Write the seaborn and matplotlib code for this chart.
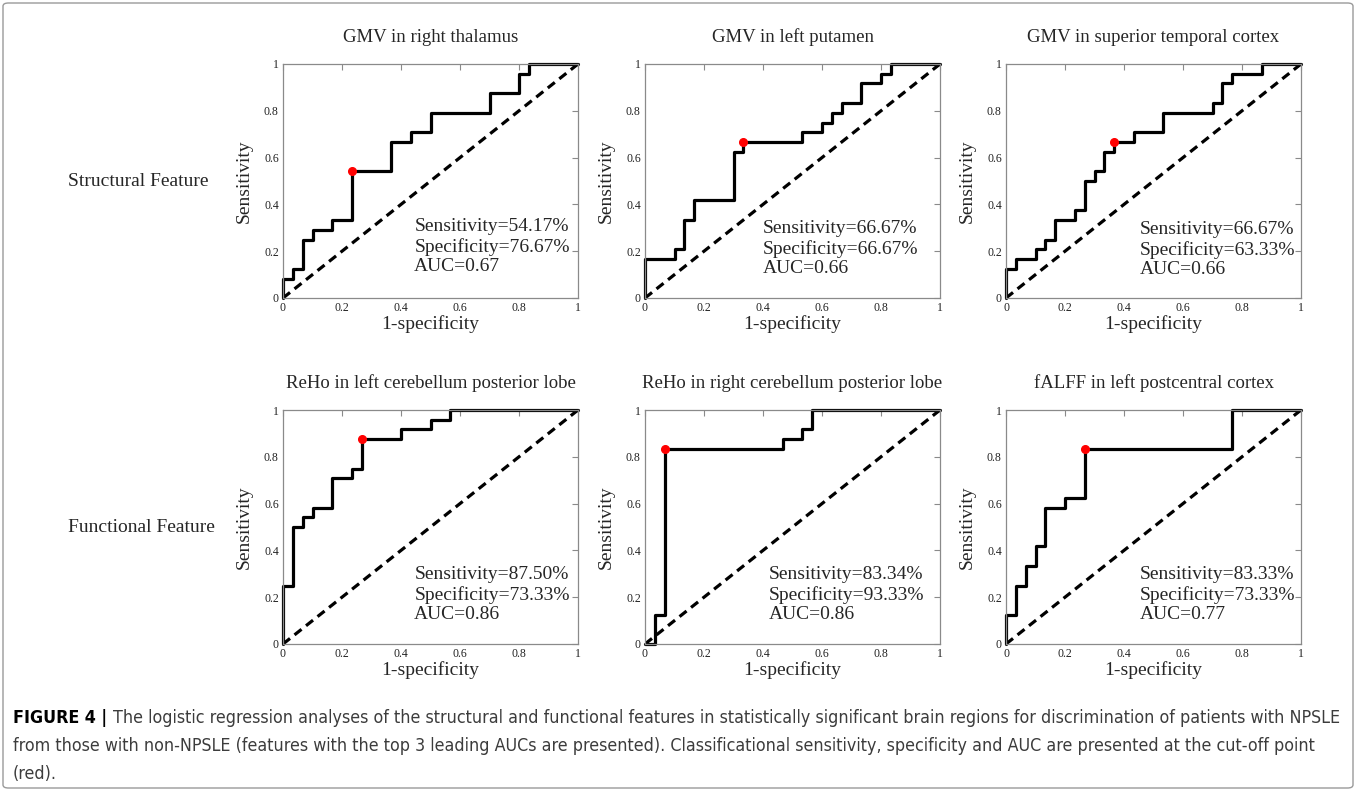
import matplotlib
matplotlib.use("Agg")
import matplotlib.pyplot as plt
from matplotlib.patches import FancyBboxPatch
import seaborn as sns

# ROC curves, 24 NPSLE vs 30 non-NPSLE: corner points (steps-post order)
titles = ["GMV in right thalamus", "GMV in left putamen", "GMV in superior temporal cortex",
          "ReHo in left cerebellum posterior lobe", "ReHo in right cerebellum posterior lobe",
          "fALFF in left postcentral cortex"]
row_labels = ["Structural Feature", "Functional Feature"]

fpr_thalamus = [0, 0, .033, .067, .1, .167, .233, .367, .433, .5, .7, .8, .833, 1]
tpr_thalamus = [0, .083, .125, .25, .292, .333, .542, .667, .708, .792, .875, .958, 1, 1]

fpr_putamen = [0, 0, .1, .133, .167, .3, .333, .533, .6, .633, .667, .733, .8, .833, 1]
tpr_putamen = [0, .167, .208, .333, .417, .625, .667, .708, .75, .792, .833, .917, .958, 1, 1]

fpr_temporal = [0, 0, .033, .1, .133, .167, .233, .267, .3, .333, .367, .433, .533, .7, .733, .767, .867, 1]
tpr_temporal = [0, .125, .167, .208, .25, .333, .375, .5, .542, .625, .667, .708, .792, .833, .917, .958, 1, 1]

fpr_left_cb = [0, 0, .033, .067, .1, .167, .233, .267, .4, .5, .567, 1]
tpr_left_cb = [0, .25, .5, .542, .583, .708, .75, .875, .917, .958, 1, 1]

fpr_right_cb = [0, .033, .067, .467, .533, .567, 1]
tpr_right_cb = [0, .125, .833, .875, .917, 1, 1]

fpr_postcentral = [0, 0, .033, .067, .1, .133, .2, .267, .767, 1]
tpr_postcentral = [0, .125, .25, .333, .417, .583, .625, .833, 1, 1]

cut_fpr = [.233, .333, .367, .267, .067, .267]
cut_tpr = [.542, .667, .667, .875, .833, .833]

sensitivity = ["54.17%", "66.67%", "66.67%", "87.50%", "83.34%", "83.33%"]
specificity = ["76.67%", "66.67%", "63.33%", "73.33%", "93.33%", "73.33%"]
auc = ["0.67", "0.66", "0.66", "0.86", "0.86", "0.77"]

curves = [(fpr_thalamus, tpr_thalamus), (fpr_putamen, tpr_putamen), (fpr_temporal, tpr_temporal),
          (fpr_left_cb, tpr_left_cb), (fpr_right_cb, tpr_right_cb), (fpr_postcentral, tpr_postcentral)]

caption_bold = "FIGURE 4 | "
caption_1 = ("The logistic regression analyses of the structural and functional features in statistically "
             "significant brain regions for discrimination of patients with NPSLE")
caption_2 = ("from those with non-NPSLE (features with the top 3 leading AUCs are presented). Classificational "
             "sensitivity, specificity and AUC are presented at the cut-off point")
caption_3 = "(red)."

sns.set_style("white")
plt.rcParams["font.family"] = ["Liberation Serif", "DejaVu Serif"]

W, H = 1357, 791
fig = plt.figure(figsize=(W / 100, H / 100), dpi=100)

col_left = [283, 645, 1006]
row_top = [64, 410]
ax_w, ax_h = 295, 234
text_x = [0.445, 0.40, 0.452, 0.445, 0.42, 0.455]
text_y = [0.22, 0.21, 0.207, 0.21, 0.21, 0.21]

for i, (fpr, tpr) in enumerate(curves):
    r, c = divmod(i, 3)
    ax = fig.add_axes([col_left[c] / W, 1 - (row_top[r] + ax_h) / H, ax_w / W, ax_h / H])
    sns.lineplot(x=[0, 1], y=[0, 1], ax=ax, color="black", lw=2.3, dashes=False,
                 linestyle=(0, (2.8, 1.8)), estimator=None, sort=False)
    sns.lineplot(x=fpr, y=tpr, ax=ax, color="black", lw=2.3, drawstyle="steps-post",
                 estimator=None, sort=False, clip_on=False)
    ax.plot(cut_fpr[i], cut_tpr[i], "o", color="red", ms=5.5, zorder=5, clip_on=False)
    ax.set_xlim(0, 1)
    ax.set_ylim(0, 1)
    ticks = [0, 0.2, 0.4, 0.6, 0.8, 1]
    ax.set_xticks(ticks)
    ax.set_yticks(ticks)
    ax.set_xticklabels(["0", "0.2", "0.4", "0.6", "0.8", "1"])
    ax.set_yticklabels(["0", "0.2", "0.4", "0.6", "0.8", "1"])
    ax.tick_params(direction="in", top=True, right=True, length=4, width=0.8,
                   color="#8a8a8a", labelcolor="#222222", labelsize=8.5, pad=3)
    for s in ax.spines.values():
        s.set_color("#8a8a8a")
        s.set_linewidth(0.9)
    ax.set_title(titles[i], fontsize=13.5, pad=16)
    ax.set_xlabel("1-specificity", fontsize=14, labelpad=1)
    ax.set_ylabel("Sensitivity", fontsize=14, labelpad=8)
    ax.text(text_x[i], text_y[i],
            f"Sensitivity={sensitivity[i]}\nSpecificity={specificity[i]}\nAUC={auc[i]}",
            fontsize=14, va="center", ha="left", linespacing=1.2)

for r, lab in enumerate(row_labels):
    fig.text(68 / W, 1 - (row_top[r] + ax_h / 2) / H, lab, fontsize=14, va="center", ha="left")

# caption, fitted to the width of the first line
cap_font = ["DejaVu Sans"]
cap_color = "#3c3c3c"
cap_y = [718, 746, 774]
fs = 14
kw = dict(family=cap_font, fontstretch="condensed", va="center")
tb = fig.text(13 / W, 1 - cap_y[0] / H, caption_bold, fontsize=fs, fontweight="bold",
              color="black", **kw)
t1 = fig.text(0, 1 - cap_y[0] / H, caption_1, fontsize=fs, color=cap_color, **kw)
t2 = fig.text(13 / W, 1 - cap_y[1] / H, caption_2, fontsize=fs, color=cap_color, **kw)
t3 = fig.text(13 / W, 1 - cap_y[2] / H, caption_3, fontsize=fs, color=cap_color, **kw)
fig.canvas.draw()
rend = fig.canvas.get_renderer()
total = tb.get_window_extent(rend).width + t1.get_window_extent(rend).width
fs = fs * (1340 - 13) / total
for t in (tb, t1, t2, t3):
    t.set_fontsize(fs)
fig.canvas.draw()
t1.set_x(tb.get_window_extent(rend).x1 / W)

fig.patches.append(FancyBboxPatch((3 / W, 3 / H), 1 - 7 / W, 1 - 6 / H,
                                  boxstyle="round,pad=0,rounding_size=0.004",
                                  transform=fig.transFigure, fill=False,
                                  edgecolor="#9a9a9a", lw=1.0))

fig.savefig("out.png", dpi=100)
